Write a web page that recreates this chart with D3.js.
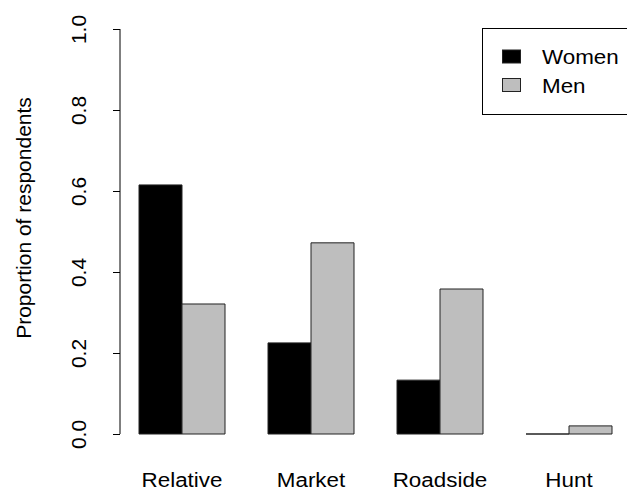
<!DOCTYPE html>
<html>
<head>
<meta charset="utf-8">
<script src="https://cdn.jsdelivr.net/npm/d3@7"></script>
<style>
  html, body { margin: 0; padding: 0; background: #fff; }
  svg { display: block; font-family: "Liberation Sans", Arial, sans-serif; }
</style>
</head>
<body>
<svg id="chart" width="627" height="493"></svg>
<script>
// Where respondents obtain it, by gender
const categories = ["Relative", "Market", "Roadside", "Hunt"];
const seriesNames = ["Women", "Men"];
const women = [0.615, 0.225, 0.133, 0.0];
const men = [0.321, 0.472, 0.358, 0.02];
const yTicks = [0.0, 0.2, 0.4, 0.6, 0.8, 1.0];
const colors = ["#000000", "#bebebe"];

const svg = d3.select("#chart");
const fontSize = 21;
const xStretch = 1.067;   // horizontal text is drawn slightly wide

// Bar units: each group is two bars plus one bar-width gap (R barplot, beside = TRUE)
const unit = 43;
const x0 = 139 - unit;               // left edge of the first gap
const x = d3.scaleLinear().domain([0, 1]).range([x0, x0 + unit]);
const y = d3.scaleLinear().domain([0, 1]).range([434, 29]);

const values = [women, men];

function wideText(sel, px, py, anchor, str) {
  sel.append("text")
    .attr("transform", `translate(${px},${py}) scale(${xStretch},1)`)
    .attr("text-anchor", anchor)
    .attr("font-size", fontSize)
    .attr("fill", "#000")
    .text(str);
}

// Bars as closed paths, so a zero-height bar still shows its outline
categories.forEach((c, i) => {
  values.forEach((vals, s) => {
    const left = 1 + i * 3 + s;
    const xa = x(left), xb = x(left + 1), y0 = y(0), y1 = y(vals[i]);
    svg.append("path")
      .attr("d", `M${xa},${y0}H${xb}V${y1}H${xa}Z`)
      .attr("fill", colors[s])
      .attr("stroke", "#222")
      .attr("stroke-width", 1);
  });
  // category label
  wideText(svg, x(1 + i * 3 + 1), 487, "middle", c);
});

// Y axis
const yAxis = d3.axisLeft(y)
  .tickValues(yTicks)
  .tickFormat(d3.format(".1f"))
  .tickSize(7)
  .tickPadding(0);
const ga = svg.append("g").attr("transform", "translate(120,0)").call(yAxis);
ga.select(".domain").attr("stroke", "#000").attr("d", `M0,${y(0)}V${y(1)}`);
ga.selectAll(".tick line").attr("stroke", "#000");
ga.selectAll(".tick text")
  .attr("font-size", fontSize)
  .attr("font-family", "Liberation Sans, Arial, sans-serif")
  .attr("fill", "#000")
  .attr("text-anchor", "middle")
  .attr("dy", null)
  .attr("x", null)
  .attr("transform", "translate(-42,0) rotate(-90)")
  .attr("dominant-baseline", "central");

// Axis title
svg.append("text")
  .attr("transform", `translate(23,218) rotate(-90)`)
  .attr("text-anchor", "middle")
  .attr("dominant-baseline", "central")
  .attr("font-size", fontSize)
  .attr("fill", "#000")
  .text("Proportion of respondents");

// Legend
const legend = svg.append("g");
legend.append("rect")
  .attr("x", 482.5).attr("y", 28.5)
  .attr("width", 160).attr("height", 86)
  .attr("fill", "#fff").attr("stroke", "#000");
seriesNames.forEach((n, s) => {
  const cy = 56.5 + s * 28.5;
  legend.append("rect")
    .attr("x", 502.5).attr("y", cy - 6.5)
    .attr("width", 18).attr("height", 13)
    .attr("fill", colors[s]).attr("stroke", "#222");
  wideText(legend, 542, cy + 7.5, "start", n);
});
</script>
</body>
</html>
